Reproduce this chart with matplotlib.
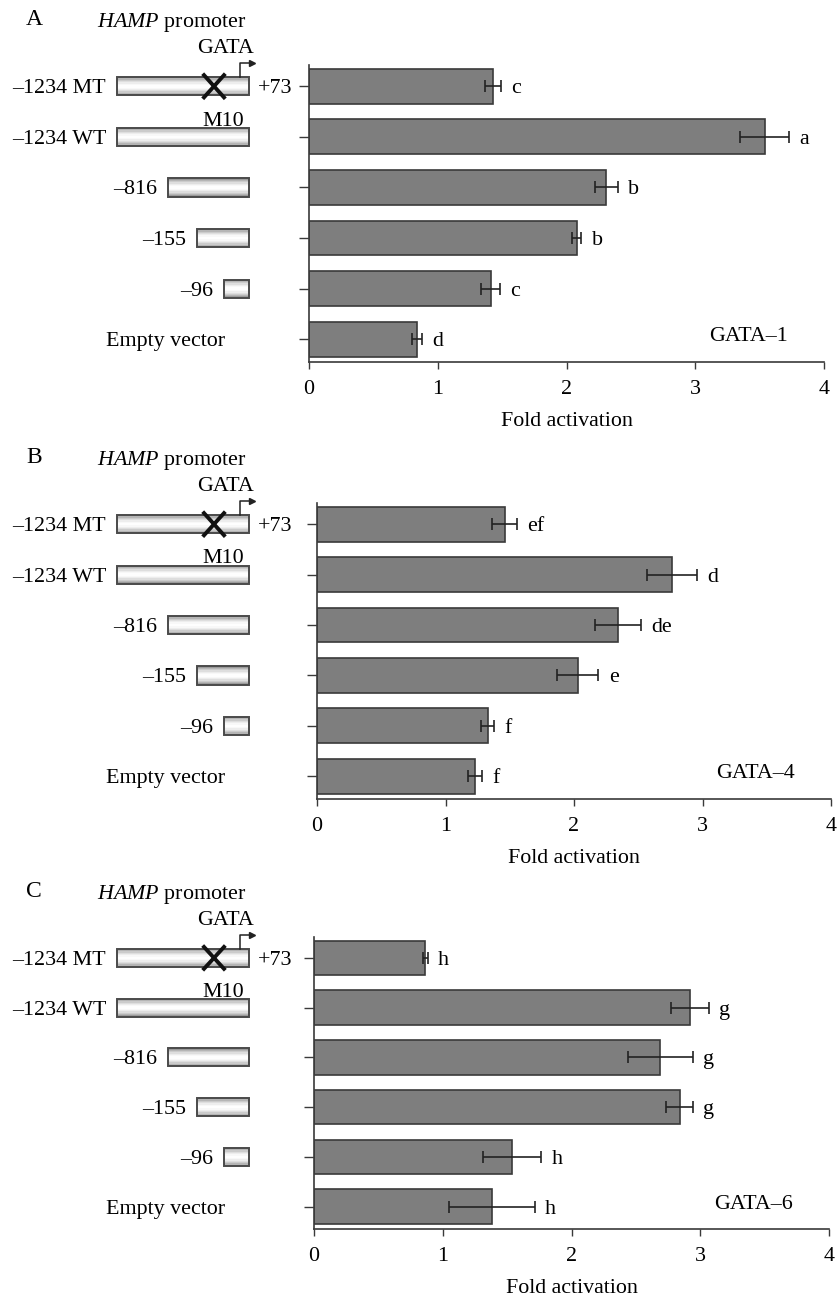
"""HAMP promoter deletion constructs vs GATA-1/-4/-6 activation (three stacked panels)."""

import numpy as np
import matplotlib
matplotlib.use("Agg")
import matplotlib.pyplot as plt
from matplotlib.patches import Rectangle
from matplotlib.transforms import blended_transform_factory

plt.rcParams["font.family"] = ["Liberation Serif", "DejaVu Serif"]
plt.rcParams["mathtext.fontset"] = "custom"
plt.rcParams["mathtext.it"] = "Liberation Serif:italic"
plt.rcParams["mathtext.rm"] = "Liberation Serif"

# constructs, top to bottom
constructs = ["\u20131234 MT", "\u20131234 WT", "\u2013816", "\u2013155", "\u201396", "Empty vector"]

gata1_fold = [1.43, 3.54, 2.31, 2.08, 1.41, 0.84]
gata1_err = [0.06, 0.19, 0.09, 0.035, 0.075, 0.04]
gata1_letters = ["c", "a", "b", "b", "c", "d"]

gata4_fold = [1.46, 2.76, 2.34, 2.03, 1.33, 1.23]
gata4_err = [0.095, 0.195, 0.18, 0.16, 0.05, 0.055]
gata4_letters = ["ef", "d", "de", "e", "f", "f"]

gata6_fold = [0.865, 2.92, 2.69, 2.84, 1.54, 1.38]
gata6_err = [0.02, 0.145, 0.255, 0.105, 0.225, 0.335]
gata6_letters = ["h", "g", "g", "g", "h", "h"]

panels = [
    ("A", "GATA\u20131", gata1_fold, gata1_err, gata1_letters),
    ("B", "GATA\u20134", gata4_fold, gata4_err, gata4_letters),
    ("C", "GATA\u20136", gata6_fold, gata6_err, gata6_letters),
]

# layout in pixels: x of 0, x of 4, top of axis, x-axis line
W, H = 840, 1302
layout = [(309, 824, 65, 362), (317, 831, 503, 799), (314, 829, 937, 1229)]
box_left = [117, 117, 168, 197, 224]   # schematic promoter box starts (px)
box_right = 249
FS = 15.8
EDGE = "#3a3a3a"
VA = "center_baseline"

fig = plt.figure(figsize=(W / 100, H / 100), dpi=100)
ov = fig.add_axes([0, 0, 1, 1], zorder=5)
ov.set_xlim(0, W)
ov.set_ylim(H, 0)
ov.axis("off")

for (tag, factor, fold, err, letters), (x0, x4, top, base) in zip(panels, layout):
    ax = fig.add_axes([x0 / W, 1 - base / H, (x4 - x0) / W, (base - top) / H])
    y = np.arange(len(constructs))
    ax.barh(y, fold, height=0.69, color="#7e7e7e", edgecolor=EDGE, linewidth=1.2, zorder=2)
    ax.errorbar(fold, y, xerr=err, fmt="none", ecolor="#222222", elinewidth=1.2,
                capsize=4, capthick=1.2, zorder=3)
    for yi, v, e, lab in zip(y, fold, err, letters):
        ax.text(v + e + 0.08, yi, lab, ha="left", va=VA, fontsize=FS)
    ax.text(3.72, 4.9, factor, ha="right", va=VA, fontsize=FS)

    ax.set_xlim(0, 4)
    ax.set_ylim(5.45, -0.42)
    ax.set_xticks([0, 1, 2, 3, 4])
    ax.set_yticks(y)
    ax.set_yticklabels([])
    ax.tick_params(axis="x", length=5, width=1, color=EDGE, labelsize=FS, pad=8)
    ax.tick_params(axis="y", length=7, width=1, color=EDGE)
    ax.set_xlabel("Fold activation", fontsize=FS, labelpad=9)
    for s in ["top", "right"]:
        ax.spines[s].set_visible(False)
    for s in ["left", "bottom"]:
        ax.spines[s].set_color(EDGE)
        ax.spines[s].set_linewidth(1.2)

    # promoter schematic on the left, y tied to the bar rows
    tr = blended_transform_factory(ov.transData, ax.transData)
    ov.text(26, top - 48, tag, fontsize=17, ha="left", va=VA)
    ov.text(97, top - 46, r"$\mathit{HAMP}$ promoter", fontsize=FS, ha="left", va=VA)
    bh = 0.36
    for i, xl in enumerate(box_left):
        n = 14
        for k in range(n):
            t = (k + 0.5) / n * 2 - 1
            g = 1 - 0.45 * abs(t) ** 1.8
            ov.add_patch(Rectangle((xl, i - bh / 2 + k * bh / n), box_right - xl, bh / n + 0.002,
                                   transform=tr, facecolor=(g, g, g), edgecolor="none"))
        ov.add_patch(Rectangle((xl, i - bh / 2), box_right - xl, bh, transform=tr,
                               facecolor="none", edgecolor="#4a4a4a", linewidth=1.4))
        ov.text(xl - 11, i, constructs[i], transform=tr, ha="right", va=VA, fontsize=FS)
    ov.text(166, 5, constructs[5], transform=tr, ha="center", va=VA, fontsize=FS)
    ov.text(258, 0, "+73", transform=tr, ha="left", va=VA, fontsize=FS)
    ov.text(225, -0.8, "GATA", transform=tr, ha="center", va=VA, fontsize=FS)
    ov.text(223, 0.64, "M10", transform=tr, ha="center", va=VA, fontsize=FS)
    # mutated site
    ov.plot([204, 224], [-0.22, 0.22], transform=tr, color="#111111", lw=2.8)
    ov.plot([204, 224], [0.22, -0.22], transform=tr, color="#111111", lw=2.8)
    # transcription start arrow
    ov.plot([240, 240, 250], [-bh / 2, -0.46, -0.46], transform=tr, color="#222222", lw=1.1)
    ov.plot([252], [-0.46], transform=tr, marker=">", color="#222222", markersize=4)

fig.savefig("out.png", dpi=100)
plt.close(fig)
